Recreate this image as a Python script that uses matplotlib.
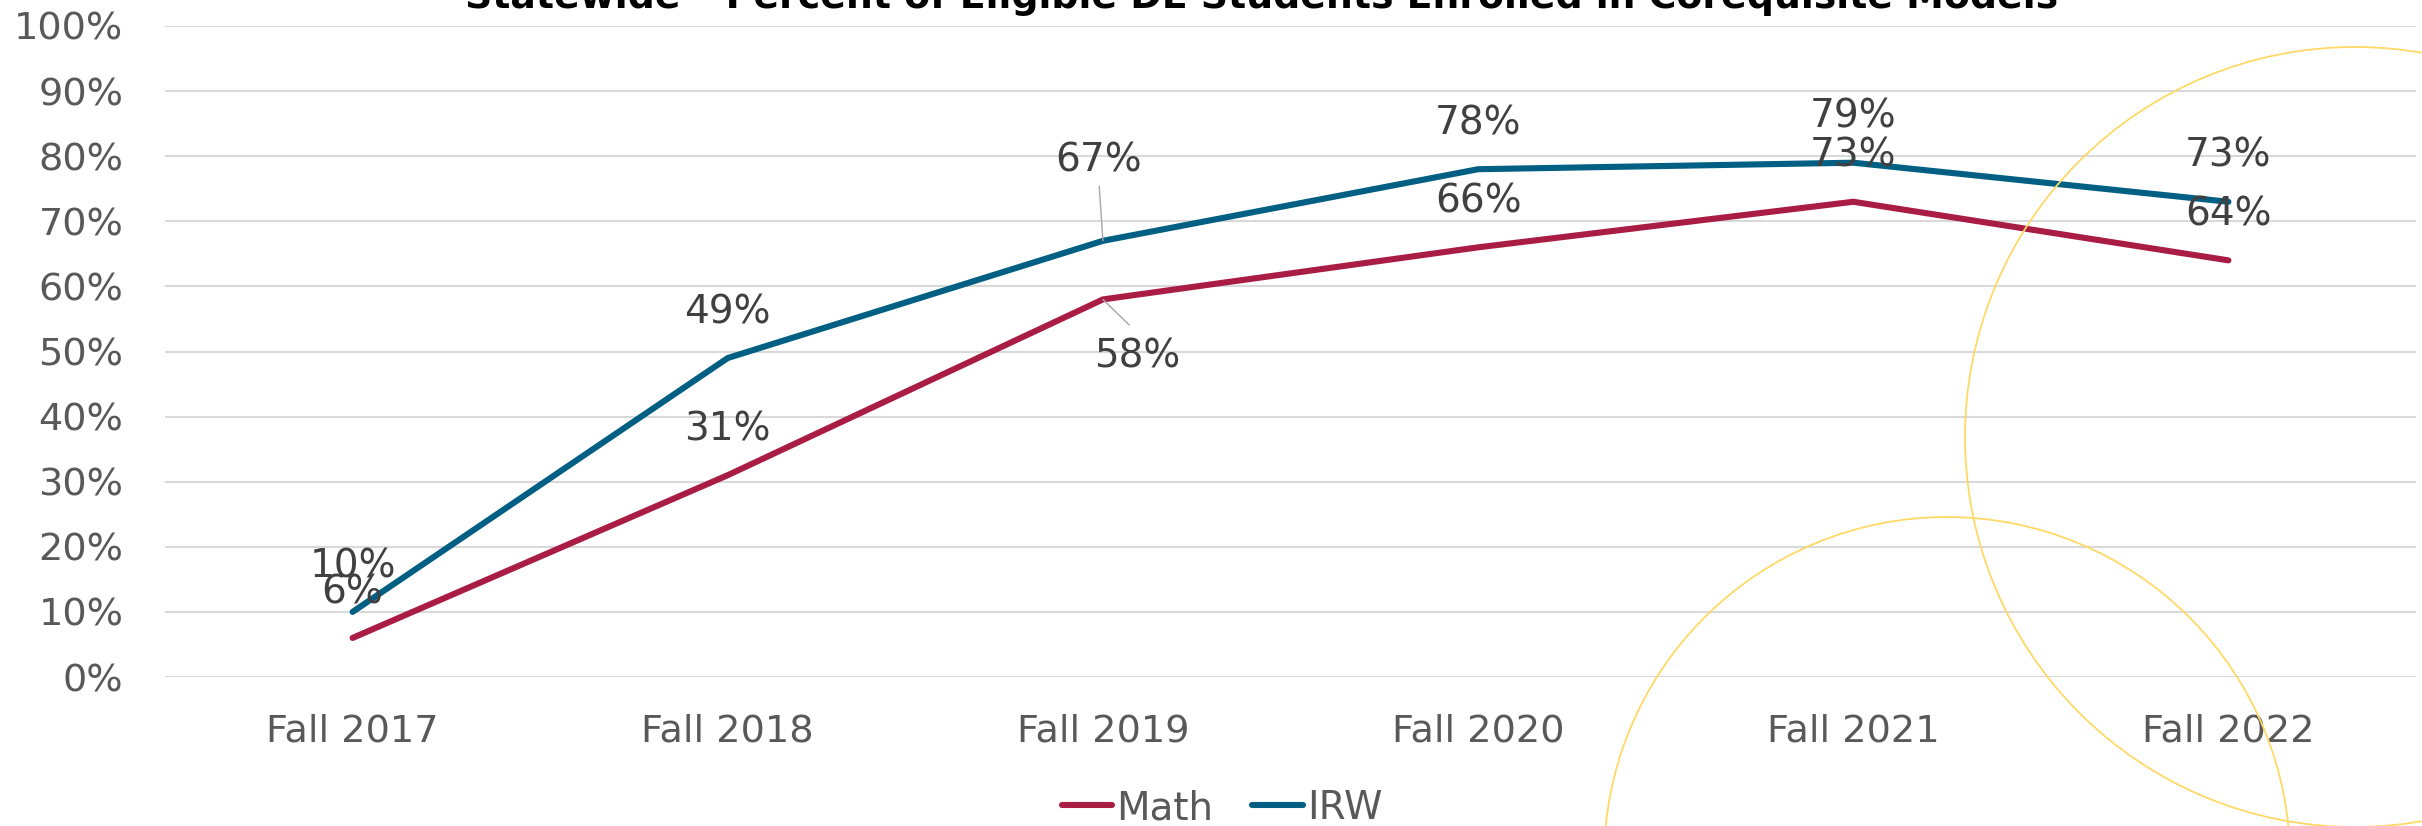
import matplotlib
matplotlib.use("Agg")
import matplotlib.pyplot as plt
from matplotlib.patches import Ellipse
from matplotlib.ticker import PercentFormatter

terms = ["Fall 2017", "Fall 2018", "Fall 2019", "Fall 2020", "Fall 2021", "Fall 2022"]
math_pct = [6, 31, 58, 66, 73, 64]
irw_pct = [10, 49, 67, 78, 79, 73]

math_color = "#A91D45"
irw_color = "#005F83"
W, H = 2422, 826

plt.rcParams["font.family"] = ["DejaVu Sans"]

fig = plt.figure(figsize=(W / 100, H / 100), dpi=100)
ax = fig.add_axes([165 / W, 1 - 677 / H, (2416 - 165) / W, (677 - 26) / H])
ax.patch.set_visible(False)

# decorative outline circles in the background (pixel geometry)
for cx, cy, r in [(2355, 437, 390), (1947, 860, 343)]:
    fig.patches.append(Ellipse((cx / W, 1 - cy / H), 2 * r / W, 2 * r / H,
                               transform=fig.transFigure, fill=False,
                               edgecolor="#FFD966", lw=1.3, zorder=0))

x = range(len(terms))
ax.plot(x, math_pct, color=math_color, lw=4.4, solid_capstyle="round",
        solid_joinstyle="round", label="Math", zorder=3)
ax.plot(x, irw_pct, color=irw_color, lw=4.4, solid_capstyle="round",
        solid_joinstyle="round", label="IRW", zorder=3)

lab_kw = dict(ha="center", va="center", fontsize=28, color="#404040",
              textcoords="offset points", zorder=4)
lead = dict(arrowstyle="-", color="#A6A6A6", lw=1, shrinkB=0)
for i, (m, r) in enumerate(zip(math_pct, irw_pct)):
    if i == 2:
        ax.annotate(f"{r}%", (i, r), xytext=(-3, 58), **lab_kw,
                    arrowprops=dict(lead, shrinkA=3, relpos=(0.5, 0)))
        ax.annotate(f"{m}%", (i, m), xytext=(25, -41), **lab_kw,
                    arrowprops=dict(lead, shrinkA=10, relpos=(0.55, 1)))
    else:
        ax.annotate(f"{r}%", (i, r), xytext=(0, 33), **lab_kw)
        ax.annotate(f"{m}%", (i, m), xytext=(0, 33), **lab_kw)

ax.set_xlim(-0.5, len(terms) - 0.5)
ax.set_ylim(0, 100)
ax.set_yticks(range(0, 101, 10))
ax.yaxis.set_major_formatter(PercentFormatter(decimals=0))
ax.set_xticks(list(x))
ax.set_xticklabels(terms)
ax.tick_params(axis="both", length=0, labelsize=27.5, labelcolor="#595959")
ax.tick_params(axis="y", pad=30)
ax.tick_params(axis="x", pad=26)
ax.grid(axis="y", color="#D9D9D9", lw=1.5, zorder=1)
ax.set_axisbelow(True)
for s in ax.spines.values():
    s.set_visible(False)

fig.text(1262 / W, 1 - 8 / H,
         "Statewide \u2013 Percent of Eligible DE Students Enrolled in Corequisite Models",
         ha="center", va="baseline", fontsize=27.3, fontweight="bold", color="black")

leg = fig.legend(loc="center", bbox_to_anchor=(1222 / W, 1 - 808 / H), ncol=2,
                 frameon=False, fontsize=28, labelcolor="#595959",
                 handlelength=1.3, handletextpad=0.1, columnspacing=1.0,
                 borderpad=0)

fig.savefig("out.png", dpi=100)
